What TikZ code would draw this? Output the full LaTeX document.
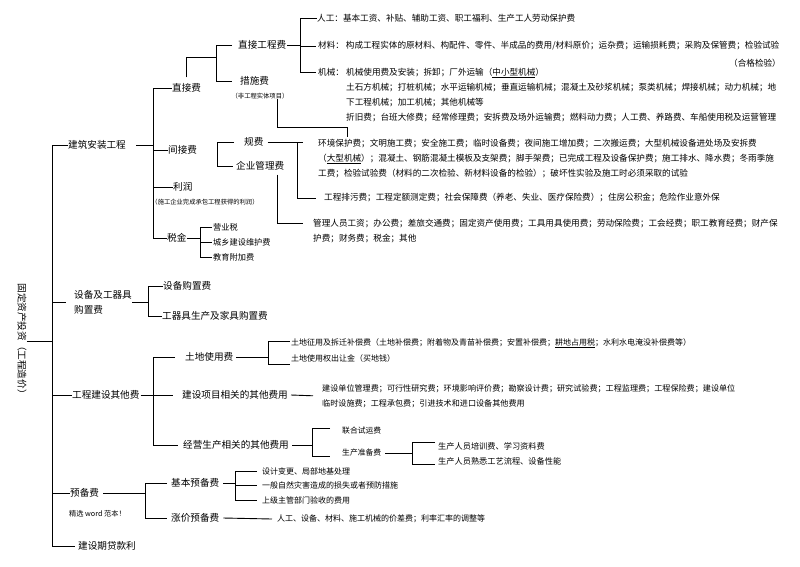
\documentclass[tikz,border=0pt]{standalone}
\usepackage{fontspec}
\setmainfont{Noto Sans CJK SC}
\usetikzlibrary{calc}

\begin{document}
\begin{tikzpicture}[x=1pt,y=-1pt,
    lbl/.style={inner sep=0pt, anchor=west, font=\fontsize{9.6}{15}\selectfont},
    sublbl/.style={inner sep=0pt, anchor=west, font=\fontsize{8.2}{10}\selectfont},
    item/.style={inner sep=0pt, anchor=west, align=left, font=\fontsize{8.6}{15}\selectfont},
    itemsm/.style={inner sep=0pt, anchor=west, align=left, font=\fontsize{8}{15}\selectfont},
    remark/.style={inner sep=0pt, font=\fontsize{6.3}{8}\selectfont},
    link/.style={line width=0.9pt}]
  \fill[white] (0,0) rectangle (800,566);
  \useasboundingbox (0,0) rectangle (800,566);

  % root and first level
  \node[lbl, anchor=center, rotate=-90] (root) at (22,341) {固定资产投资（工程造价）};
  \node[lbl] (jzaz) at (68,145) {建筑安装工程};
  \node[lbl, anchor=north west, align=left] (sbgz) at (74,290) {设备及工器具\\购置费};
  \node[lbl] (gcqt) at (72,395) {工程建设其他费};
  \node[lbl] (ybf) at (70,493) {预备费};
  \node[remark, anchor=west, font=\fontsize{7.2}{9}\selectfont] (jxfb) at (69,514) {精选 word 范本！};
  \node[lbl] (dkl) at (78,546) {建设期贷款利};

  \coordinate (spine) at (52,0);
  \draw[link] (root.north) -- (root.north -| spine);
  \draw[link] (spine |- jzaz.west) -- (spine |- dkl.west) -- ([xshift=-3pt]dkl.west); % main spine
  \draw[link] (spine |- jzaz.west) -- (jzaz.west);
  \draw[link] (spine |- sbgz.west) -- ([xshift=-8pt]sbgz.west);
  \draw[link] (spine |- gcqt.west) -- (gcqt.west);
  \draw[link] (spine |- ybf.west) -- (ybf.west);

  % jianzhu anzhuang gongcheng
  \node[lbl] (zjf) at (172,88) {直接费};
  \node[lbl] (jjf) at (168,150) {间接费};
  \node[lbl] (lr) at (173,187) {利润};
  \node[remark] (lrsm) at (205,202) {（施工企业完成承包工程获得的利润）};
  \node[lbl] (sj) at (167,238) {税金};
  \coordinate (jzbar) at (153,0);
  \draw[link] ([xshift=10pt]jzaz.east) -- (jzaz.east -| jzbar);
  \draw[link] (jzbar |- zjf.west) -- (jzbar |- sj.west) -- (sj.west);
  \draw[link] (jzbar |- zjf.west) -- (zjf.west);
  \draw[link] (jzbar |- jjf.west) -- (jjf.west);
  \draw[link] (jzbar |- lr.west) -- (lr.west);

  % zhijiefei
  \node[lbl] (zjgc) at (238,45) {直接工程费};
  \node[lbl] (csf) at (240,81) {措施费};
  \node[remark] (cssm) at (260,96) {（非工程实体项目）};
  \coordinate (zjbar) at (216,0);
  \coordinate (zjmid) at (216,57);
  \draw[link] ([yshift=6pt]zjf.north) |- (zjmid);
  \draw[link] ([xshift=-6pt]zjgc.west) -| (zjbar |- csf.west) -- ([xshift=-8pt]csf.west);

  % zhijie gongchengfei
  \node[item] (rg) at (317,18) {人工：基本工资、补贴、辅助工资、职工福利、生产工人劳动保护费};
  \node[item] (cl) at (318,46) {材料： 构成工程实体的原材料、构配件、零件、半成品的费用/材料原价；运杂费；运输损耗费；采购及保管费；检验试验};
  \node[item, anchor=east] (hgjy) at (781,63) {（合格检验）};
  \node[item] (jxlab) at (318,72) {机械：};
  \node[item, anchor=north west] (jxnr) at (346,68) {机械使用费及安装；拆卸；厂外运输（\underline{中小型机械}）\\土石方机械；打桩机械；水平运输机械；垂直运输机械；混凝土及砂浆机械；泵类机械；焊接机械；动力机械；地\\下工程机械；加工机械；其他机械等\\折旧费；台班大修费；经常修理费；安拆费及场外运输费；燃料动力费；人工费、养路费、车船使用税及运营管理};
  \coordinate (zgbar) at (300,0);
  \draw[link] ([xshift=1pt]zjgc.east) -- (zjgc.east -| zgbar);
  \draw[link] (zgbar |- rg.west) -- (zgbar |- jxlab.west) -- ([xshift=-2pt]jxlab.west);
  \draw[link] (zgbar |- rg.west) -- (rg.west);
  \draw[link] (zgbar |- cl.west) -- ([xshift=-2pt]cl.west);

  % cuoshifei
  \node[item, anchor=north west] (hjbh) at (318,139) {环境保护费；文明施工费；安全施工费；临时设备费；夜间施工增加费；二次搬运费；大型机械设备进处场及安拆费\\（\underline{大型机械}）；混凝土、钢筋混凝土模板及支架费；脚手架费；已完成工程及设备保护费；施工排水、降水费；冬雨季施\\工费；检验试验费（材料的二次检验、新材料设备的检验）；破坏性实验及施工时必须采取的试验};
  \draw[link] ([xshift=17pt]cssm.south) |- ([xshift=29pt,yshift=12pt]hjbh.north west) -- ([xshift=29pt,yshift=2pt]hjbh.north west);

  % jianjiefei
  \node[lbl] (gf) at (244,142) {规费};
  \node[lbl] (qygl) at (236,166) {企业管理费};
  \coordinate (jjbar) at (217,0);
  \draw[link] ([xshift=-10pt]gf.west) -| (jjbar |- qygl.west) -- ([xshift=-3pt]qygl.west);

  \node[item] (gcpw) at (324,198) {工程排污费；工程定额测定费；社会保障费（养老、失业、医疗保险费）；住房公积金；危险作业意外保};
  \coordinate (gfbar) at (297,0);
  \draw[link] ([xshift=4pt]gf.east) -- ([xshift=6pt]gf.east -| gfbar);
  \draw[link] (gfbar |- gf.east) -- (gfbar |- gcpw.west) -- ([xshift=-8pt]gcpw.west);

  \node[item, anchor=north west] (glry) at (313,219) {管理人员工资；办公费；差旅交通费；固定资产使用费；工具用具使用费；劳动保险费；工会经费；职工教育经费；财产保\\护费；财务费；税金；其他};
  \draw[link] ([xshift=17pt,yshift=-4pt]qygl.south) |- ([xshift=-10pt,yshift=-4pt]glry.north west);

  % shuijin
  \node[sublbl] (yys) at (213,227) {营业税};
  \node[sublbl] (cxjs) at (213,242) {城乡建设维护费};
  \node[sublbl] (jyfj) at (213,257) {教育附加费};
  \coordinate (sjbar) at (200,0);
  \draw[link] (sj.east) -- (sj.east -| sjbar);
  \draw[link] ([xshift=-1pt]yys.west) -| (sjbar |- jyfj.west) -- ([xshift=-1pt]jyfj.west);
  \draw[link] (sjbar |- cxjs.west) -- ([xshift=-1pt]cxjs.west);

  % shebei ji gongqiju
  \node[lbl] (sbgzf) at (163,286) {设备购置费};
  \node[lbl] (gqj) at (162,316) {工器具生产及家具购置费};
  \coordinate (sbbar) at (148,0);
  \draw[link] (sbgz.east) -- (sbgz.east -| sbbar);
  \draw[link] (sbgzf.west) -| (sbbar |- gqj.west) -- (gqj.west);

  % gongcheng jianshe qita fei
  \node[lbl] (tdsy) at (185,357) {土地使用费};
  \node[lbl] (xmxg) at (182,395) {建设项目相关的其他费用};
  \node[lbl] (jysc) at (183,445) {经营生产相关的其他费用};
  \coordinate (qtbar) at (153,0);
  \draw[link] ([xshift=1pt]gcqt.east) -- (gcqt.east -| qtbar);
  \draw[link] ([xshift=-10pt]tdsy.west) -| (qtbar |- jysc.west) -- ([xshift=-5pt]jysc.west);
  \draw[link] (qtbar |- xmxg.west) -- ([xshift=-9pt]xmxg.west);

  \node[itemsm] (tdzy) at (291,343) {土地征用及拆迁补偿费（土地补偿费；附着物及青苗补偿费；安置补偿费；\underline{耕地占用税}；水利水电淹没补偿费等）};
  \node[itemsm] (tdcr) at (291,358) {土地使用权出让金（买地钱）};
  \coordinate (tdbar) at (268,0);
  \draw[link] ([xshift=3pt]tdsy.east) -- (tdsy.east -| tdbar);
  \draw[link] ([xshift=-1pt,yshift=2pt]tdzy.west) -| ([yshift=-6pt]tdbar |- tdcr.west) -- ([xshift=-1pt,yshift=-6pt]tdcr.west);

  \node[itemsm, anchor=north west, font=\fontsize{8.1}{15}\selectfont] (jsdw) at (322,384) {建设单位管理费；可行性研究费；环境影响评价费；勘察设计费；研究试验费；工程监理费；工程保险费；建设单位\\临时设施费；工程承包费；引进技术和进口设备其他费用};
  \draw[link] ([xshift=3pt]xmxg.east) -- ([xshift=-9pt]jsdw.west);

  \node[sublbl, font=\fontsize{7.8}{10}\selectfont] (lhsy) at (342,431) {联合试运费};
  \node[sublbl, font=\fontsize{7.8}{10}\selectfont] (sczb) at (342,453) {生产准备费};
  \coordinate (jybar) at (312,0);
  \draw[link] ([xshift=3pt]jysc.east) -- (jysc.east -| jybar);
  \draw[link] ([xshift=-12pt,yshift=3pt]lhsy.west) -| ([yshift=-3pt]jybar |- sczb.west) -- ([xshift=-12pt,yshift=-3pt]sczb.west);

  \node[sublbl] (pxf) at (438,446) {生产人员培训费、学习资料费};
  \node[sublbl] (sxgy) at (438,461) {生产人员熟悉工艺流程、设备性能};
  \coordinate (scbar) at (412,0);
  \draw[link] ([xshift=4pt]sczb.east) -- (sczb.east -| scbar);
  \draw[link] ([xshift=-3pt,yshift=4pt]pxf.west) -| ([yshift=-3pt]scbar |- sxgy.west) -- ([xshift=-3pt,yshift=-3pt]sxgy.west);

  % yubeifei
  \node[lbl] (jbyb) at (171,483) {基本预备费};
  \node[lbl] (zjyb) at (171,518) {涨价预备费};
  \coordinate (ybbar) at (145,0);
  \draw[link] ([xshift=4pt]ybf.east) -- (ybf.east -| ybbar);
  \draw[link] ([xshift=-4pt]jbyb.west) -| (ybbar |- zjyb.west) -- ([xshift=-4pt]zjyb.west);

  \node[itemsm] (sjbg) at (262,471) {设计变更、局部地基处理};
  \node[itemsm] (zrzh) at (262,485) {一般自然灾害造成的损失或者预防措施};
  \node[itemsm] (sjys) at (262,500) {上级主管部门验收的费用};
  \coordinate (jbbar) at (235,0);
  \draw[link] ([xshift=4pt]jbyb.east) -- (jbyb.east -| jbbar);
  \draw[link] ([xshift=-5pt]sjbg.west) -| (jbbar |- sjys.west) -- ([xshift=-5pt]sjys.west);
  \draw[link] (jbbar |- zrzh.west) -- ([xshift=-5pt]zrzh.west);

  \node[itemsm] (jcf) at (277,519) {人工、设备、材料、施工机械的价差费；利率汇率的调整等};
  \draw[link] ([xshift=4pt]zjyb.east) -- ([xshift=-5pt]jcf.west);
\end{tikzpicture}
\end{document}
